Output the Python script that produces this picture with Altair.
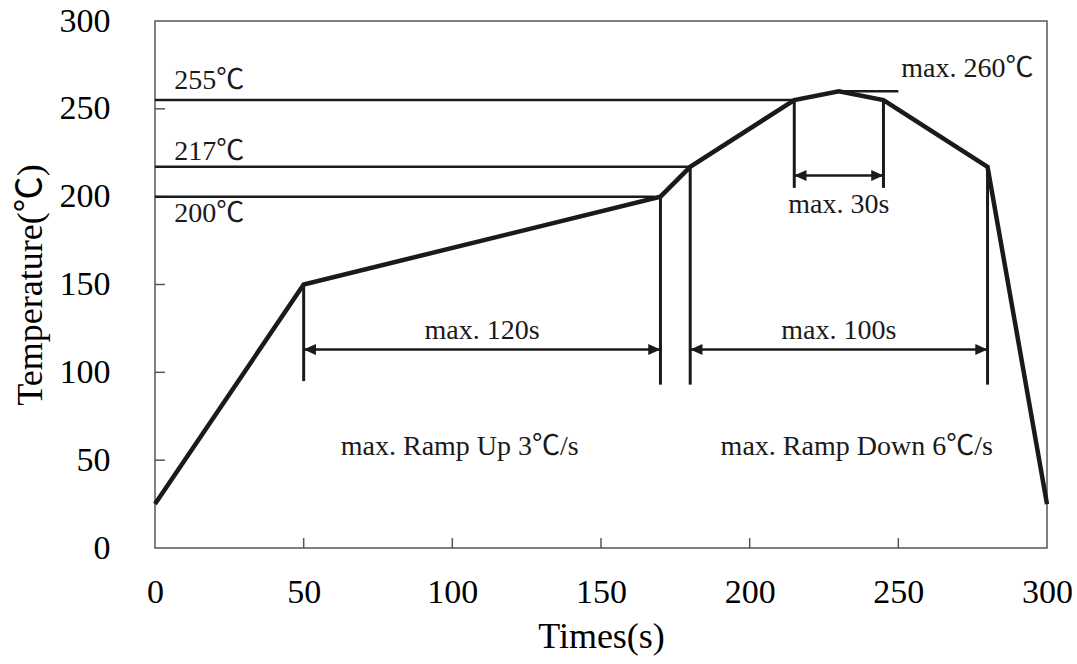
import altair as alt
import pandas as pd

# Profile points (time s, temperature C)
prof_t = [0, 50, 170, 180, 215, 230, 245, 280, 300]
prof_c = [25, 150, 200, 217, 255, 260, 255, 217, 25]

# Horizontal reference lines
h_y = [255, 217, 200, 260]
h_x1 = [0, 0, 0, 230]
h_x2 = [215, 180, 168, 250]

# Vertical marker lines
v_x = [50, 170, 180, 215, 245, 280]
v_top = [150, 200, 217, 255, 255, 217]
v_bot = [95, 93, 93, 205, 205, 93]

# Arrows (double headed)
a_x1 = [50, 180, 215]
a_x2 = [170, 280, 245]
a_y = [113, 113, 212]

# Text labels
lbl_text = ["255℃", "217℃", "200℃", "max. 260℃", "max. 120s", "max. 100s",
            "max. 30s", "max. Ramp Up 3℃/s", "max. Ramp Down 6℃/s"]
lbl_x = [6.5, 6.5, 6.5, 251, 110, 230, 230, 102.5, 236]
lbl_y = [261.5, 221, 185.5, 268, 119, 119, 190.5, 53, 53]
lbl_align = ["left", "left", "left", "left", "center", "center", "center", "center", "center"]

ticks = [0, 50, 100, 150, 200, 250, 300]
inner_ticks = [50, 100, 150, 200, 250]

FONT = "'Liberation Serif', 'Noto Sans CJK SC', serif"
W, H = 892, 527
INK = "#1a1a1a"

xs = alt.Scale(domain=[0, 300], nice=False)
ys = alt.Scale(domain=[0, 300], nice=False)

xaxis = alt.Axis(values=ticks, grid=False, ticks=False, domain=False, labelFont=FONT,
                 labelFontSize=34, labelColor="black", labelPadding=27, labelFlush=False,
                 title="Times(s)", titleFont=FONT, titleFontSize=36, titleFontWeight="normal",
                 titleColor="black", titlePadding=10, format="d")
yaxis = alt.Axis(values=ticks, grid=False, ticks=False, domain=False, labelFont=FONT,
                 labelFontSize=34, labelColor="black", labelPadding=45, labelFlush=False,
                 title="Temperature(℃)", titleFont=FONT, titleFontSize=36, titleFontWeight="normal",
                 titleColor="black", titlePadding=10, format="d")

prof = pd.DataFrame({"t": prof_t, "c": prof_c, "o": range(len(prof_t))})
hdf = pd.DataFrame({"y": h_y, "x1": h_x1, "x2": h_x2})
vdf = pd.DataFrame({"x": v_x, "y1": v_top, "y2": v_bot})
adf = pd.DataFrame({"x1": a_x1, "x2": a_x2, "y": a_y})
ldf = pd.DataFrame({"text": lbl_text, "x": lbl_x, "y": lbl_y, "align": lbl_align})
tdf = pd.DataFrame({"v": inner_ticks})

base = alt.Chart(prof)

line = base.mark_line(color=INK, strokeWidth=4.5, strokeJoin="miter").encode(
    x=alt.X("t:Q", scale=xs, axis=xaxis),
    y=alt.Y("c:Q", scale=ys, axis=yaxis),
    order="o:Q",
)

hlines = alt.Chart(hdf).mark_rule(color=INK, strokeWidth=2.5).encode(
    x=alt.X("x1:Q", scale=xs), x2="x2:Q", y=alt.Y("y:Q", scale=ys))

vlines = alt.Chart(vdf).mark_rule(color=INK, strokeWidth=3).encode(
    x=alt.X("x:Q", scale=xs), y=alt.Y("y1:Q", scale=ys), y2="y2:Q")

shafts = alt.Chart(adf).mark_rule(color=INK, strokeWidth=2.5).encode(
    x=alt.X("x1:Q", scale=xs), x2="x2:Q", y=alt.Y("y:Q", scale=ys))

head_l = alt.Chart(adf).mark_point(shape="M0,0L2,-0.9L2,0.9Z", size=150, filled=True,
                                   color=INK, opacity=1, strokeWidth=0).encode(
    x=alt.X("x1:Q", scale=xs), y=alt.Y("y:Q", scale=ys))
head_r = alt.Chart(adf).mark_point(shape="M0,0L-2,-0.9L-2,0.9Z", size=150, filled=True,
                                   color=INK, opacity=1, strokeWidth=0).encode(
    x=alt.X("x2:Q", scale=xs), y=alt.Y("y:Q", scale=ys))

labels_l = alt.Chart(ldf[ldf["align"] == "left"]).mark_text(
    font=FONT, fontSize=28, align="left", baseline="alphabetic", color=INK).encode(
    x=alt.X("x:Q", scale=xs), y=alt.Y("y:Q", scale=ys), text="text:N")
labels_c = alt.Chart(ldf[ldf["align"] == "center"]).mark_text(
    font=FONT, fontSize=28, align="center", baseline="alphabetic", color=INK).encode(
    x=alt.X("x:Q", scale=xs), y=alt.Y("y:Q", scale=ys), text="text:N")

xticks = alt.Chart(tdf).mark_rule(color="#555555", strokeWidth=1.5).encode(
    x=alt.X("v:Q", scale=xs), y=alt.value(H), y2=alt.value(H - 10))
yticks = alt.Chart(tdf).mark_rule(color="#555555", strokeWidth=1.5).encode(
    y=alt.Y("v:Q", scale=ys), x=alt.value(0), x2=alt.value(10))

chart = alt.layer(xticks, yticks, hlines, vlines, shafts, head_l, head_r, line,
                  labels_l, labels_c).properties(
    width=W, height=H,
    autosize=alt.AutoSizeParams(type="none"),
    padding={"left": 155, "top": 21, "right": 30, "bottom": 116},
    background="white",
).configure_view(stroke="#555555", strokeWidth=1.5)

chart.save("out.html", embed_options={"renderer": "svg", "actions": False})
